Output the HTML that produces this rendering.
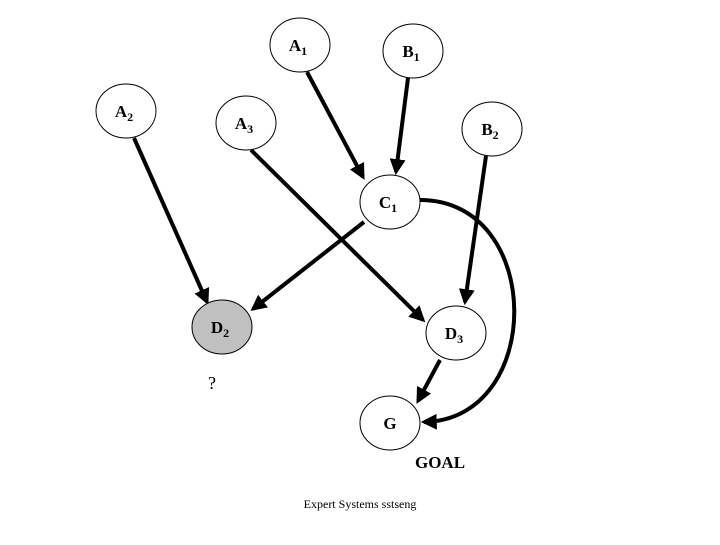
<!DOCTYPE html>
<html><head><style>
body{margin:0;background:#fff;}
svg text{font-family:"Liberation Serif",serif;}
</style></head><body>
<svg width="720" height="540" viewBox="0 0 720 540" xmlns="http://www.w3.org/2000/svg">
<defs>
<marker id="ah" markerWidth="4" markerHeight="4" refX="3.2" refY="2" orient="auto" markerUnits="strokeWidth">
<path d="M0,0 L4,2 L0,4 Z" fill="#000"/>
</marker>
</defs>
<g stroke="#000" stroke-width="4" fill="none" marker-end="url(#ah)">
<line x1="307" y1="72" x2="363" y2="177"/>
<line x1="408" y1="78" x2="396" y2="172"/>
<line x1="134" y1="138" x2="207" y2="302"/>
<line x1="251" y1="150" x2="423" y2="320"/>
<line x1="364" y1="222" x2="253" y2="309"/>
<line x1="486" y1="156" x2="465" y2="302"/>
<line x1="440" y1="360" x2="418" y2="401"/>
<path d="M420,200 C545,200 545,420 424,422"/>
</g>
<g stroke="#000" stroke-width="1" fill="#fff">
<ellipse cx="300" cy="45" rx="30" ry="27"/>
<ellipse cx="413" cy="51" rx="30" ry="27"/>
<ellipse cx="126" cy="111" rx="30" ry="27"/>
<ellipse cx="246" cy="123" rx="30" ry="27"/>
<ellipse cx="492" cy="129" rx="30" ry="27"/>
<ellipse cx="390" cy="202" rx="30" ry="27"/>
<ellipse cx="222" cy="327" rx="30" ry="27" fill="#c0c0c0"/>
<ellipse cx="456" cy="333" rx="30" ry="27"/>
<ellipse cx="390" cy="423" rx="30" ry="27"/>
</g>
<g font-size="17" font-weight="bold" text-anchor="middle" fill="#000">
<text x="298" y="51">A<tspan font-size="12" dy="4">1</tspan></text>
<text x="411" y="57">B<tspan font-size="12" dy="4">1</tspan></text>
<text x="124" y="117">A<tspan font-size="12" dy="4">2</tspan></text>
<text x="244" y="129">A<tspan font-size="12" dy="4">3</tspan></text>
<text x="490" y="135">B<tspan font-size="12" dy="4">2</tspan></text>
<text x="388" y="208">C<tspan font-size="12" dy="4">1</tspan></text>
<text x="220" y="333">D<tspan font-size="12" dy="4">2</tspan></text>
<text x="454" y="339">D<tspan font-size="12" dy="4">3</tspan></text>
<text x="390" y="429">G</text>
<text x="440" y="468">GOAL</text>
</g>
<text x="212" y="389" font-size="18" text-anchor="middle">?</text>
<text x="360" y="508" font-size="12" text-anchor="middle">Expert Systems sstseng</text>
</svg>
</body></html>
